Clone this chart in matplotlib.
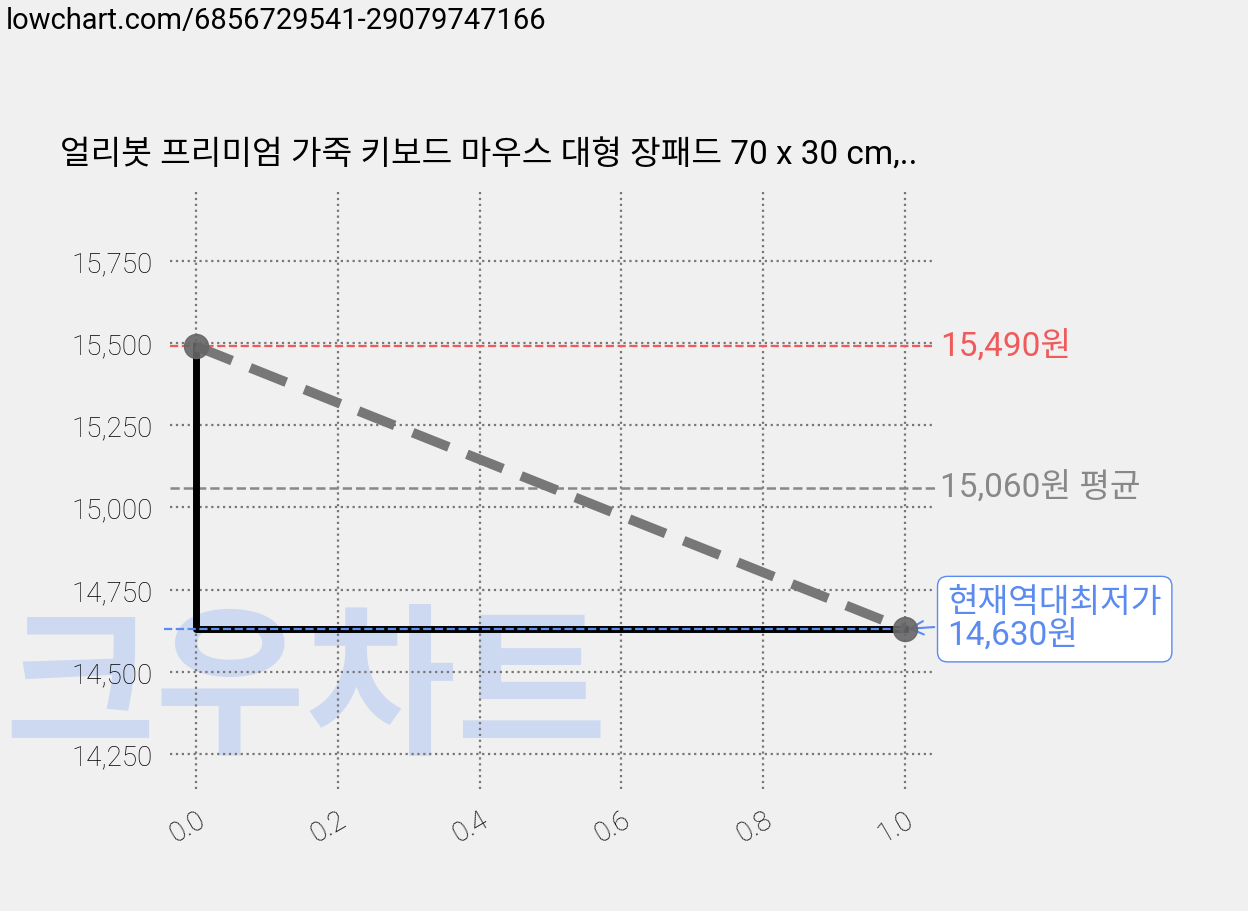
import matplotlib
matplotlib.use("Agg")
import matplotlib.pyplot as plt

plt.rcParams['font.family'] = ['Roboto', 'Noto Sans CJK KR', 'DejaVu Sans']

xs = [0.0, 1.0]
prices = [15490, 14630]
step_x = [0.0, 0.0, 1.0]
step_y = [15490, 14630, 14630]
max_price = 15490
avg_price = 15060
min_price = 14630
yticks = [14250, 14500, 14750, 15000, 15250, 15500, 15750]
xticks = [0.0, 0.2, 0.4, 0.6, 0.8, 1.0]
title = "얼리봇 프리미엄 가죽 키보드 마우스 대형 장패드 70 x 30 cm,.."
url = "lowchart.com/6856729541-29079747166"

fig = plt.figure(figsize=(12.48, 9.12), dpi=100, facecolor='#f0f0f0')
ax = fig.add_axes([0.136, 0.134, 0.613, 0.658], facecolor='#f0f0f0')
for s in ax.spines.values():
    s.set_visible(False)
ax.set_xlim(-0.037, 1.042)
ax.set_ylim(14144, 15969)
ax.set_xticks(xticks)
ax.set_yticks(yticks)
ax.set_yticklabels([f"{v:,}" for v in yticks], fontsize=20, fontweight='light')
ax.set_xticklabels([f"{v:.1f}" for v in xticks], fontsize=20, fontweight='light',
                   rotation=30, ha='right', rotation_mode='anchor')
ax.tick_params(length=0, pad=12)
ax.grid(True, linestyle=':', color='#777777', linewidth=1.6)

ax.text(-0.27, 14440, "크우차트", fontsize=118, fontweight='black', color='#c5d3f2',
        alpha=0.8, va='center', ha='left', zorder=0, clip_on=False,
        family=['Noto Sans CJK KR'], style='italic')

ax.axhline(max_price, color='#f05a5a', linestyle='--', linewidth=1.6)
ax.axhline(avg_price, color='#888888', linestyle='--', linewidth=1.8)
ax.plot(step_x, step_y, color='black', linewidth=5)
ax.plot([-0.045, 1.0], [min_price, min_price], color='#5b8af0', linestyle='--',
        linewidth=1.6, clip_on=False, zorder=4)
ax.plot(xs, prices, color='#777777', linestyle=(0, (4, 2)), linewidth=7)
ax.scatter(xs, prices, s=300, color='#666666', alpha=0.9, zorder=5)

ax.text(1.05, max_price, f"{max_price:,}원", color='#f05a5a', fontsize=24, va='center')
ax.text(1.05, avg_price, f"{avg_price:,}원 평균", color='#888888', fontsize=24, va='center')
ax.annotate(f"현재역대최저가\n{min_price:,}원", xy=(1.0, min_price), xytext=(1.06, min_price + 30),
            color='#5b8af0', fontsize=24, va='center', linespacing=1.05,
            bbox=dict(boxstyle='round,pad=0.3', fc='white', ec='#5b8af0'),
            arrowprops=dict(arrowstyle='->', color='#5b8af0', lw=1.5))

fig.text(0.048, 0.82, title, fontsize=24)
fig.text(0.005, 0.968, url, fontsize=21)
fig.savefig("out.png", dpi=100, facecolor=fig.get_facecolor())
